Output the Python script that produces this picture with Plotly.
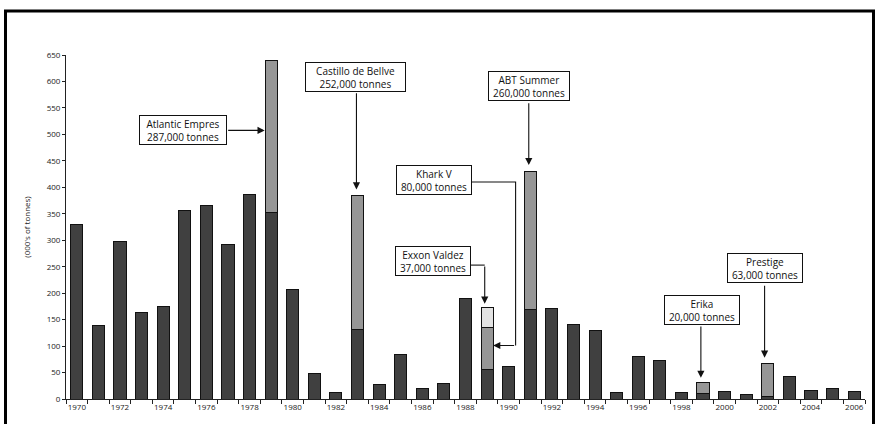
import plotly.graph_objects as go

years = list(range(1970, 2007))
base = [330, 138, 297, 163, 175, 357, 365, 291, 386, 353,
        206, 48, 12, 132, 28, 84, 19, 30, 190, 56,
        61, 170, 171, 140, 130, 12, 80, 72, 13, 11,
        14, 8, 4, 42, 16, 19, 14]
# major spill (light grey) per year
major = [0, 0, 0, 0, 0, 0, 0, 0, 0, 287,
         0, 0, 0, 252, 0, 0, 0, 0, 0, 80,
         0, 260, 0, 0, 0, 0, 0, 0, 0, 20,
         0, 0, 63, 0, 0, 0, 0]
# second major spill (lightest)
second = [0] * 37
second[years.index(1989)] = 37

FONT = "Open Sans, DejaVu Sans, sans-serif"
DARK = "#404040"
MID = "#969696"
LIGHT = "#e2e2e2"

fig = go.Figure()
bw = 0.56
for vals, col in [(base, DARK), (major, MID), (second, LIGHT)]:
    fig.add_trace(go.Bar(x=years, y=vals, width=bw, marker=dict(color=col, line=dict(color="#111", width=1)),
                         showlegend=False, hoverinfo="x+y"))

fig.update_layout(
    barmode="stack",
    width=880, height=424,
    margin=dict(l=66, r=15, t=55, b=21),
    paper_bgcolor="white", plot_bgcolor="white",
    font=dict(family=FONT, color="#222", size=8),
    xaxis=dict(range=[1969.5, 2006.5], tickmode="linear", tick0=1970, dtick=2,
               ticks="", showline=True, linecolor="#222", linewidth=1,
               showgrid=False, zeroline=False, tickfont=dict(size=8),
               minor=dict(tickmode="linear", tick0=1969.5, dtick=1, ticks="outside", ticklen=4,
                          tickcolor="#222", showgrid=False)),
    yaxis=dict(range=[0, 650], tickmode="linear", tick0=0, dtick=50, ticks="outside", ticklen=3,
               tickcolor="#222", showline=True, linecolor="#222", linewidth=1,
               showgrid=False, zeroline=False, tickfont=dict(size=8),
               title=dict(text="(000's of tonnes)", font=dict(size=8), standoff=14)),
)

# outer frame
fig.add_shape(type="rect", xref="paper", yref="paper",
              x0=(5.5 - 66) / 799, x1=(873.5 - 66) / 799, y0=(403 - 430) / 348, y1=(403 - 10.5) / 348,
              line=dict(color="black", width=3))

labels = [
    ("Atlantic Empres<br>287,000 tonnes", 1974.91, 507.5, 84),
    ("Castillo de Bellve<br>252,000 tonnes", 1982.92, 608.6, 97),
    ("ABT Summer<br>260,000 tonnes", 1990.93, 590.8, 78),
    ("Khark V<br>80,000 tonnes", 1986.53, 413, 72),
    ("Exxon Valdez<br>37,000 tonnes", 1986.48, 260, 72),
    ("Erika<br>20,000 tonnes", 1998.94, 168.5, 72),
    ("Prestige<br>63,000 tonnes", 2001.85, 247, 72),
]
for txt, x, y, w in labels:
    fig.add_annotation(x=x, y=y, xref="x", yref="y", text=txt, showarrow=False,
                       width=w, height=26, bgcolor="white", bordercolor="#111", borderwidth=1,
                       borderpad=1, font=dict(size=10, family=FONT, color="#111"), align="center")

arrows = [
    # (tail x, tail y, tip x, tip y)
    (1976.94, 507.5, 1978.70, 507.5),
    (1982.95, 580.5, 1982.95, 396),
    (1990.93, 561.8, 1990.93, 442),
    (1990.32, 101, 1989.28, 101),
    (1988.89, 253, 1988.89, 180),
    (1998.90, 140, 1998.90, 40),
    (2001.85, 217, 2001.85, 78),
]
for tx, ty, hx, hy in arrows:
    fig.add_annotation(x=hx, y=hy, ax=tx, ay=ty, xref="x", yref="y", axref="x", ayref="y",
                       text="", showarrow=True, arrowhead=2, arrowsize=1.3, arrowwidth=1.1,
                       arrowcolor="#111", standoff=0)

# elbow connectors
fig.add_shape(type="path", xref="x", yref="y",
              path="M 1988.29 410 L 1990.32 410 L 1990.32 101",
              line=dict(color="#111", width=1.1))
fig.add_shape(type="path", xref="x", yref="y",
              path="M 1988.22 253 L 1988.89 253",
              line=dict(color="#111", width=1.1))

fig.write_html("out.html", config={"displayModeBar": False},
               post_script="document.body.style.margin='0';document.body.style.overflow='hidden';")
